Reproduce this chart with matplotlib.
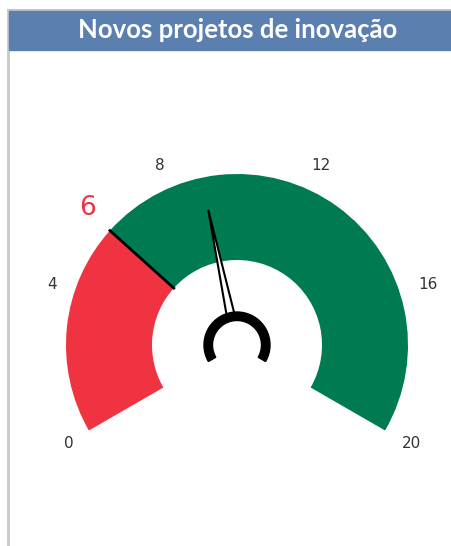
import numpy as np
import matplotlib
matplotlib.use('Agg')
import matplotlib.pyplot as plt
from matplotlib.patches import Wedge, Rectangle, Polygon

# gauge data
title = 'Novos projetos de inovação'
g_min, g_max = 0, 20
target = 6
value = 9
tick_vals = [0, 4, 8, 12, 16, 20]

W, H = 452, 546
fig = plt.figure(figsize=(W / 100, H / 100), dpi=100)
ax = fig.add_axes([0, 0, 1, 1])
ax.set_xlim(0, W)
ax.set_ylim(0, H)
ax.axis('off')

# frame + header
ax.plot([8.5, 8.5], [0, H - 10], color='#c8c8c8', lw=2)
ax.plot([8, W], [H - 10, H - 10], color='#c8c8c8', lw=1.5)
ax.add_patch(Rectangle((9, H - 50), W - 9, 39, color='#5b80b0', zorder=2))
ax.text(238, H - 30, title, color='white', fontsize=18.5, fontweight='bold',
        family='Lato', ha='center', va='center', zorder=3)

cx, cy = 237, H - 345
R, r = 171, 85
a0, a1 = 210, -30


def ang(v):
    return a0 - (v - g_min) / (g_max - g_min) * (a0 - a1)


red, green = '#ef3340', '#007a50'
ax.add_patch(Wedge((cx, cy), R, ang(target), a0, width=R - r, color=red, lw=0))
ax.add_patch(Wedge((cx, cy), R, a1, ang(target), width=R - r, color=green, lw=0))

t = np.radians(ang(target))
ax.plot([cx + r * np.cos(t), cx + R * np.cos(t)],
        [cy + r * np.sin(t), cy + R * np.sin(t)], color='black', lw=2)

# tick labels
for v in tick_vals:
    a = np.radians(ang(v))
    ax.text(cx + 3 + 198 * np.cos(a), cy + 196 * np.sin(a), str(v), fontsize=11,
            color='#333333', ha='center', va='center')
a = np.radians(ang(target))
ax.text(cx + 3 + 205 * np.cos(a), cy + 205 * np.sin(a), str(target), fontsize=19,
        color=red, ha='center', va='center')

# needle
a = np.radians(ang(value))
tip = (cx + 138 * np.cos(a), cy + 138 * np.sin(a))
px, py = -np.sin(a), np.cos(a)
base = 30
b1 = (cx + base * np.cos(a) + 4 * px, cy + base * np.sin(a) + 4 * py)
b2 = (cx + base * np.cos(a) - 4 * px, cy + base * np.sin(a) - 4 * py)
ax.add_patch(Polygon([b1, tip, b2], closed=True, facecolor='white',
                     edgecolor='black', lw=1.5, zorder=4))
ax.add_patch(Wedge((cx, cy), 33, a1, a0, width=8.5, color='black', zorder=5))

fig.savefig('out.png', dpi=100)
